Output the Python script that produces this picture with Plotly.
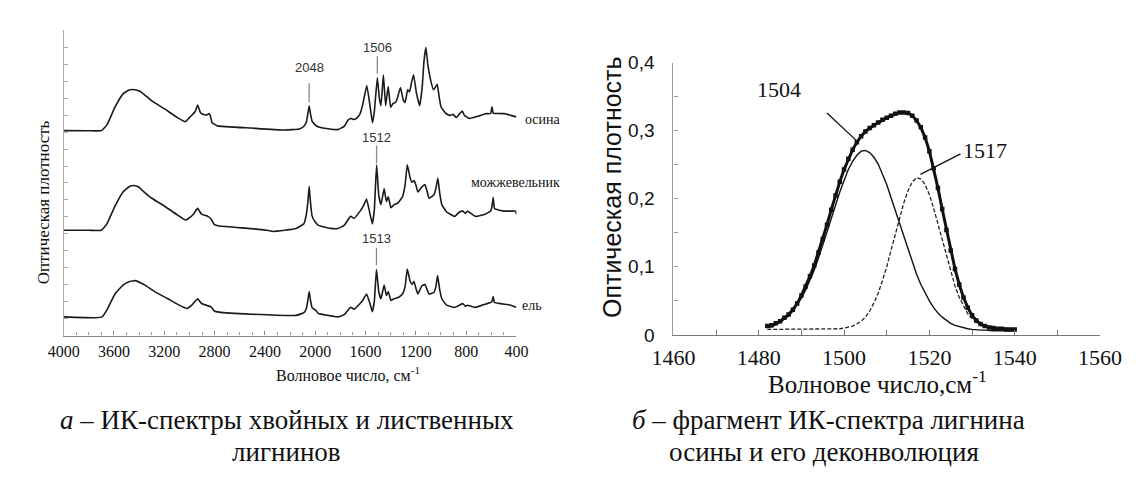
import plotly.graph_objects as go

W, H = 1139, 492
SERIF = "Liberation Serif, Times New Roman, serif"
SANS = "Liberation Sans, Arial, sans-serif"

# ---------------- panel a: IR spectra (wavenumber, offset absorbance) ----------------
osina_wn = [4000, 3800, 3700, 3656, 3592, 3528, 3480, 3452, 3410, 3375, 3299, 3197, 3096, 3031, 3006,
            2981, 2955, 2935, 2915, 2904, 2866, 2845, 2835, 2820, 2777, 2509, 2255, 2127, 2090, 2070,
            2058, 2048, 2038, 2025, 2000, 1974, 1898, 1821, 1770, 1740, 1719, 1690, 1660, 1643, 1620,
            1590, 1565, 1545, 1530, 1506, 1490, 1477, 1458, 1440, 1420, 1400, 1380, 1362, 1345, 1322,
            1300, 1285, 1265, 1250, 1235, 1218, 1195, 1170, 1150, 1135, 1120, 1105, 1085, 1060, 1045,
            1030, 1015, 1000, 985, 960, 929, 904, 878, 850, 830, 815, 776, 700, 649, 605, 595, 585, 575,
            557, 496, 445, 400]
osina_a = [12.09, 12.08, 12.09, 12.43, 13.47, 14.26, 14.48, 14.52, 14.45, 14.32, 13.84, 13.37, 12.86, 12.62, 12.81,
           13.0, 13.2, 13.6, 13.2, 13.09, 13.0, 13.09, 13.0, 12.56, 12.37, 12.24, 12.13, 12.19, 12.35, 12.6,
           13.1, 13.56, 13.1, 12.65, 12.43, 12.3, 12.2, 12.15, 12.34, 12.7, 12.81, 12.75, 12.9, 13.09, 13.7,
           14.75, 13.6, 12.56, 13.2, 15.2, 14.0, 13.56, 15.39, 13.56, 14.69, 13.47, 13.7, 13.75, 14.05, 14.63,
           13.9, 13.75, 14.5, 14.37, 14.9, 15.39, 14.3, 13.56, 14.6, 16.2, 17.0, 16.0, 15.16, 14.5, 14.65,
           14.82, 14.1, 13.5, 13.32, 13.1, 12.99, 13.05, 12.86, 13.1, 13.24, 13.0, 12.81, 12.95, 13.09, 13.1, 13.5, 13.13, 13.1,
           13.1, 13.09, 12.99, 12.9]

mozh_wn = [4000, 3800, 3700, 3656, 3592, 3528, 3480, 3440, 3400, 3375, 3299, 3197, 3096, 3031, 3006,
           2968, 2935, 2904, 2853, 2828, 2802, 2764, 2509, 2382, 2331, 2152, 2090, 2070, 2058, 2048,
           2038, 2025, 2000, 1974, 1898, 1821, 1770, 1719, 1690, 1643, 1620, 1592, 1565, 1546, 1530,
           1512, 1495, 1477, 1452, 1434, 1419, 1398, 1373, 1342, 1306, 1285, 1268, 1245, 1230, 1215,
           1200, 1184, 1153, 1128, 1110, 1095, 1057, 1040, 1025, 1010, 993, 955, 891, 853, 827, 806,
           789, 725, 649, 605, 595, 585, 575, 557, 496, 445, 406, 400]
mozh_a = [6.21, 6.21, 6.21, 6.59, 7.63, 8.47, 8.78, 8.85, 8.75, 8.57, 8.1, 7.63, 7.12, 6.82, 6.92,
          7.16, 7.5, 7.16, 7.03, 6.88, 6.54, 6.46, 6.31, 6.21, 6.14, 6.31, 6.6, 7.16, 7.9, 8.8,
          7.9, 7.06, 6.7, 6.5, 6.35, 6.31, 6.5, 7.03, 6.92, 7.34, 7.6, 8.05, 7.2, 6.59, 7.4,
          10.08, 8.3, 7.72, 8.67, 7.91, 8.19, 7.54, 7.72, 7.82, 8.19, 8.9, 10.08, 9.3, 9.04, 9.14,
          8.9, 8.47, 8.76, 8.91, 8.5, 8.1, 8.29, 8.7, 9.29, 8.4, 7.72, 7.29, 7.03, 7.29, 7.34, 7.21,
          7.34, 7.03, 7.16, 7.35, 7.6, 8.14, 7.5, 7.44, 7.34, 7.34, 7.34, 7.16]

el_wn = [4000, 3750, 3694, 3656, 3592, 3528, 3480, 3427, 3380, 3350, 3274, 3172, 3070, 3019, 2981,
         2935, 2904, 2853, 2828, 2802, 2764, 2509, 2152, 2090, 2070, 2058, 2048, 2038, 2025, 2000,
         1974, 1898, 1821, 1770, 1719, 1690, 1643, 1620, 1592, 1565, 1546, 1530, 1513, 1495, 1477,
         1452, 1434, 1419, 1398, 1373, 1336, 1306, 1285, 1268, 1245, 1230, 1215, 1200, 1184, 1153,
         1128, 1110, 1095, 1057, 1040, 1027, 1010, 993, 955, 891, 853, 827, 806, 789, 725, 649,
         605, 595, 585, 575, 557, 496, 445, 400]
el_a = [1.1, 1.05, 1.1, 1.51, 2.45, 2.98, 3.18, 3.24, 3.08, 2.96, 2.58, 2.17, 1.75, 1.6, 1.79,
        2.17, 1.89, 1.75, 1.69, 1.45, 1.38, 1.26, 1.19, 1.35, 1.6, 2.1, 2.6, 2.1, 1.65, 1.51,
        1.3, 1.19, 1.1, 1.23, 1.66, 1.56, 1.89, 2.1, 2.45, 1.9, 1.41, 2.0,
        3.9, 2.6, 2.17, 2.98, 2.36, 2.6, 2.07, 2.17, 2.26, 2.45, 2.9, 3.92, 3.2, 3.02, 3.2,
        2.8, 2.45, 2.92, 3.02, 2.7, 2.45, 2.54, 2.9, 3.54, 2.7, 2.17, 1.79, 1.66, 1.79, 1.89, 1.73,
        1.79, 1.66, 1.85, 1.95, 2.0, 2.3, 1.95, 1.92, 1.85, 1.79, 1.66]

spec_names = ["осина", "можжевельник", "ель"]
x_ticks_a = [4000, 3600, 3200, 2800, 2400, 2000, 1600, 1200, 800, 400]

# peak marks: (wavenumber, label y, line top, line bottom)
peak_labels = ["2048", "1506", "1512", "1513"]
peak_wn = [2048, 1506, 1512, 1513]
peak_text_y = [15.82, 17.0, 11.68, 5.75]
peak_line_top = [14.88, 16.48, 11.21, 5.18]
peak_line_bot = [13.75, 15.45, 10.17, 4.15]

# ---------------- panel b: deconvolution of 1500 band (aspen) ----------------
fit_wn = list(range(1482, 1541))
measured = [0.013, 0.014, 0.017, 0.020, 0.025, 0.030, 0.037, 0.046, 0.058, 0.071,
            0.086, 0.102, 0.121, 0.141, 0.162, 0.184, 0.205, 0.225, 0.243, 0.259,
            0.272, 0.283, 0.292, 0.299, 0.304, 0.308, 0.312, 0.316, 0.319, 0.322,
            0.325, 0.327, 0.327, 0.326, 0.322, 0.315, 0.305, 0.290, 0.270, 0.245,
            0.216, 0.185, 0.154, 0.124, 0.097, 0.074, 0.055, 0.040, 0.029, 0.021,
            0.016, 0.013, 0.011, 0.010, 0.009, 0.009, 0.008, 0.008, 0.008]
band_1504 = [0.011, 0.012, 0.015, 0.018, 0.023, 0.028, 0.035, 0.044, 0.054, 0.066,
             0.080, 0.095, 0.113, 0.131, 0.151, 0.171, 0.191, 0.210, 0.227, 0.243,
             0.255, 0.264, 0.270, 0.271, 0.268, 0.261, 0.251, 0.237, 0.221, 0.202,
             0.183, 0.163, 0.143, 0.124, 0.105, 0.089, 0.074, 0.061, 0.050, 0.040,
             0.032, 0.026, 0.021, 0.017, 0.014, 0.012, 0.010, 0.009, 0.008, 0.007,
             0.007, 0.007, 0.006, 0.006, 0.006, 0.006, 0.006, 0.006, 0.006]
band_1517 = [0.008, 0.008, 0.008, 0.008, 0.008, 0.008, 0.008, 0.008, 0.008, 0.008,
             0.008, 0.008, 0.008, 0.008, 0.008, 0.008, 0.008, 0.009, 0.010, 0.011,
             0.013, 0.016, 0.020, 0.026, 0.035, 0.047, 0.061, 0.080, 0.100, 0.124,
             0.148, 0.172, 0.194, 0.212, 0.225, 0.231, 0.229, 0.221, 0.206, 0.186,
             0.163, 0.138, 0.114, 0.092, 0.072, 0.055, 0.042, 0.031, 0.024, 0.018,
             0.014, 0.012, 0.010, 0.009, 0.008, 0.008, 0.008, 0.008, 0.008]
y_ticks_b = [0, 0.1, 0.2, 0.3, 0.4]
y_ticktext_b = ["0", "0,1", "0,2", "0,3", "0,4"]
x_ticks_b = [1460, 1480, 1500, 1520, 1540, 1560]
band_labels = ["1504", "1517"]
band_label_xy = [(1484.7, 0.36), (1533.0, 0.271)]
band_leaders = [((1496.0, 0.326), (1502.9, 0.2855)), ((1527.3, 0.266), (1517.9, 0.236))]


def pxx(x):
    return x / W


def pxy(y):
    return 1 - y / H


fig = go.Figure()
LINE = "#1a1a1a"
for wn, a in [(osina_wn, osina_a), (mozh_wn, mozh_a), (el_wn, el_a)]:
    fig.add_trace(go.Scatter(x=wn, y=a, mode="lines", xaxis="x", yaxis="y",
                             line=dict(color=LINE, width=1.6, shape="spline", smoothing=0.35),
                             showlegend=False, hoverinfo="skip"))

fig.add_trace(go.Scatter(x=fit_wn, y=band_1517, mode="lines", xaxis="x2", yaxis="y2",
                         line=dict(color="#222", width=1.3, dash="4px,2px"), showlegend=False))
fig.add_trace(go.Scatter(x=fit_wn, y=band_1504, mode="lines", xaxis="x2", yaxis="y2",
                         line=dict(color="#111", width=1.4), showlegend=False))
fig.add_trace(go.Scatter(x=fit_wn, y=measured, mode="lines+markers", xaxis="x2", yaxis="y2",
                         line=dict(color="#111", width=3),
                         marker=dict(symbol="square", size=4.5, color="#111"),
                         showlegend=False))

shapes = []
annotations = []
for lab, wn, ty, lt, lb in zip(peak_labels, peak_wn, peak_text_y, peak_line_top, peak_line_bot):
    shapes.append(dict(type="line", xref="x", yref="y", x0=wn, x1=wn, y0=lb, y1=lt,
                       line=dict(color="#8a8a8a", width=1.3)))
    annotations.append(dict(xref="x", yref="y", x=wn, y=ty, text=lab, showarrow=False,
                            xanchor="center", yanchor="middle",
                            font=dict(family=SANS, size=13, color="#333")))

for lab, (bx, by) in zip(band_labels, band_label_xy):
    annotations.append(dict(xref="x2", yref="y2", x=bx, y=by, text=lab, showarrow=False,
                            xanchor="center", yanchor="middle",
                            font=dict(family=SERIF, size=22, color="#111")))
for (p0, p1) in band_leaders:
    shapes.append(dict(type="line", xref="x2", yref="y2", x0=p0[0], y0=p0[1], x1=p1[0], y1=p1[1],
                       line=dict(color="#111", width=1.3)))

# curve names
name_pos = [(513, 106), (457, 172), (510, 300)]
for name, (x, y) in zip(spec_names, name_pos):
    annotations.append(dict(xref="paper", yref="paper", x=pxx(x), y=pxy(y), xanchor="left",
                            yanchor="middle", text=name, showarrow=False,
                            font=dict(family=SERIF, size=14, color="#111")))


def centered(text, x, y, family, size, angle=0):
    return dict(xref="paper", yref="paper", x=pxx(x), y=pxy(y), text=text, textangle=angle,
                xanchor="center", yanchor="middle", showarrow=False,
                font=dict(family=family, size=size, color="#111"))


# axis titles
annotations.append(centered("Волновое число, см<sup>-1</sup>", 331, 372, SERIF, 16))
annotations.append(centered("Оптическая плотность", 14, 192, SERIF, 17, -90))
annotations.append(centered("Волновое число,см<sup>-1</sup>", 882, 380, SERIF, 25))
annotations.append(centered("Оптическая плотность", 606, 177, SANS, 25, -90))

# captions
captions = [("<i>а</i> – ИК-спектры хвойных и лиственных", 267, 420),
            ("лигнинов", 267, 453),
            ("<i>б</i> – фрагмент ИК-спектра лигнина", 831, 420),
            ("осины и его деконволюция", 826, 453)]
for t, x, y in captions:
    annotations.append(centered(t, x, y, SERIF, 27))

fig.update_layout(
    width=W, height=H, margin=dict(l=0, r=0, t=0, b=0),
    paper_bgcolor="white", plot_bgcolor="white",
    shapes=shapes, annotations=annotations, showlegend=False,
    xaxis=dict(domain=[pxx(35), pxx(506)], range=[4000, 400], tickmode="array", tickvals=x_ticks_a,
               ticks="inside", ticklen=4, tickcolor="#888", showline=True, linecolor="#888", linewidth=1.3,
               showgrid=False, zeroline=False, ticklabelstandoff=1,
               tickfont=dict(family=SERIF, size=16, color="#111"),
               minor=dict(tick0=0, dtick=100, ticks="inside", ticklen=3, tickcolor="#999", showgrid=False)),
    yaxis=dict(domain=[pxy(331.7), pxy(13)], range=[0, 18], tick0=0, dtick=1, ticks="inside", ticklen=4,
               tickcolor="#aaa", showticklabels=False, showline=True, linecolor="#aaa", linewidth=1.3,
               showgrid=False, zeroline=False),
    xaxis2=dict(domain=[pxx(669.3), pxx(1113)], range=[1460, 1560], tickmode="array", tickvals=x_ticks_b,
                ticks="inside", ticklen=5, tickcolor="#777", showline=True, linecolor="#777", linewidth=1.3,
                showgrid=False, zeroline=False, anchor="y2", ticklabelstandoff=3,
                tickfont=dict(family=SERIF, size=22, color="#111"),
                minor=dict(tick0=1460, dtick=10, ticks="inside", ticklen=5, tickcolor="#777", showgrid=False)),
    yaxis2=dict(domain=[pxy(331), pxy(46.7)], range=[0, 0.4], tickmode="array", tickvals=y_ticks_b,
                ticktext=y_ticktext_b, ticks="inside", ticklen=4, tickcolor="#999", showline=True,
                linecolor="#999", linewidth=1.3, showgrid=False, zeroline=False, anchor="x2",
                ticklabelstandoff=14, tickfont=dict(family=SANS, size=19, color="#111"),
                minor=dict(tick0=0, dtick=0.05, ticks="inside", ticklen=4, tickcolor="#999", showgrid=False)),
)

fig.write_html("out.html")
